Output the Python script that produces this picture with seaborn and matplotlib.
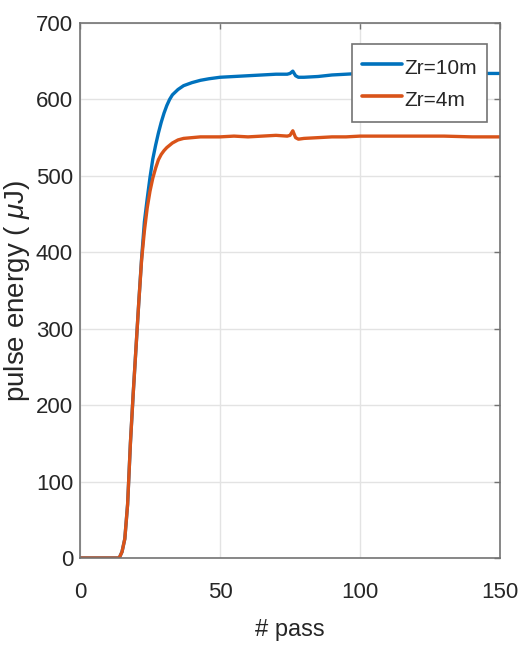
import numpy as np
import pandas as pd
import matplotlib
matplotlib.use("Agg")
import matplotlib.pyplot as plt
import seaborn as sns

# Pass numbers at which the pulse energy was sampled
passes = [0, 5, 10, 13, 14, 15, 16, 17, 18, 19, 20, 21, 22, 23, 24, 25, 26, 27,
          28, 29, 30, 31, 32, 33, 35, 37, 40, 43, 46, 50, 55, 60, 65, 70, 74,
          75, 76, 77, 78, 80, 85, 90, 95, 100, 110, 120, 130, 140, 150]

# Pulse energy (uJ) for Rayleigh length Zr = 10 m
energy_zr10 = [0, 0, 0, 0, 0, 8, 25, 70, 150, 215, 275, 335, 392, 440, 470, 498,
               522, 540, 556, 570, 582, 592, 600, 606, 613, 618, 622, 625, 627,
               629, 630, 631, 632, 633, 633, 634, 637, 631, 629, 629, 630, 632,
               633, 634, 634, 634, 634, 634, 634]

# Pulse energy (uJ) for Rayleigh length Zr = 4 m
energy_zr4 = [0, 0, 0, 0, 0, 8, 25, 70, 150, 215, 275, 335, 390, 428, 458, 480,
              497, 510, 521, 528, 533, 537, 540, 543, 547, 549, 550, 551, 551,
              551, 552, 551, 552, 553, 552, 553, 559, 550, 548, 549, 550, 551,
              551, 552, 552, 552, 552, 551, 551]

series_names = ["Zr=10m", "Zr=4m"]
series_colors = ["#0072BD", "#D95319"]

x_ticks = [0, 50, 100, 150]
y_ticks = [0, 100, 200, 300, 400, 500, 600, 700]

df = pd.DataFrame({
    "pass": passes * 2,
    "energy": energy_zr10 + energy_zr4,
    "series": [series_names[0]] * len(passes) + [series_names[1]] * len(passes),
})

sns.set_style("white")
plt.rcParams["font.family"] = ["Liberation Sans", "DejaVu Sans"]
plt.rcParams["mathtext.fontset"] = "custom"
plt.rcParams["mathtext.it"] = "Liberation Sans:italic"
plt.rcParams["mathtext.rm"] = "Liberation Sans"

fig = plt.figure(figsize=(5.19, 6.45), dpi=100)
ax = fig.add_axes([80 / 519, 87 / 645, 420 / 519, 535 / 645])

sns.lineplot(data=df, x="pass", y="energy", hue="series",
             palette=series_colors, linewidth=2.4, ax=ax, legend=True)

ax.set_xlim(0, 150)
ax.set_ylim(0, 700)
ax.set_xticks(x_ticks)
ax.set_yticks(y_ticks)
ax.grid(True, color="#e3e3e3", linewidth=1.0)
ax.set_axisbelow(True)

for side in ["left", "right", "top", "bottom"]:
    ax.spines[side].set_visible(True)
    ax.spines[side].set_color("#737373")
    ax.spines[side].set_linewidth(1.2)

ax.tick_params(axis="both", which="both", direction="in", length=4, width=1,
               color="#737373", top=True, right=True, labelsize=16,
               labelcolor="#262626")
ax.tick_params(axis="x", pad=17)
ax.tick_params(axis="y", pad=5)

ax.set_xlabel("# pass", fontsize=17, color="#262626", labelpad=12)
ax.set_ylabel(r"pulse energy ( $\mu$J)", fontsize=20, color="#262626")
ax.yaxis.set_label_coords(-0.114, 0.5)

leg = ax.legend(loc="upper right", bbox_to_anchor=(0.969, 0.961),
                borderaxespad=0, fontsize=15, frameon=True, fancybox=False,
                framealpha=1, edgecolor="#737373", handlelength=1.9,
                handleheight=1.5, handletextpad=0.1, borderpad=0.5,
                labelspacing=0.3)
leg.get_frame().set_linewidth(1.2)
for line in leg.get_lines():
    line.set_linewidth(2.6)
for txt in leg.get_texts():
    txt.set_color("#262626")

fig.savefig("out.png", dpi=100)
